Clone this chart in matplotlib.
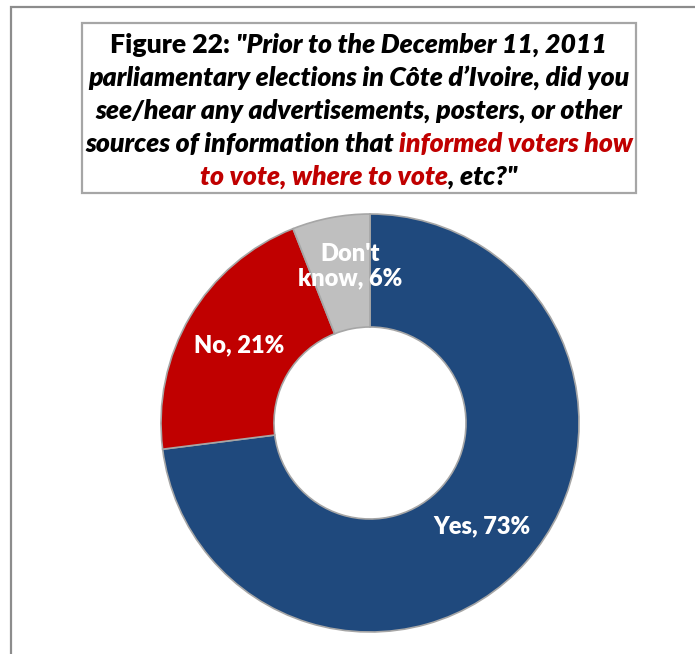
import matplotlib
matplotlib.use("Agg")
import matplotlib.pyplot as plt
from matplotlib.patches import Rectangle

plt.rcParams['font.family'] = ['Lato', 'DejaVu Sans']

labels = ["Yes", "No", "Don't\nknow"]
values = [73, 21, 6]
colors = ["#1F497D", "#C00000", "#BFBFBF"]
label_pos = [(482, 526), (239, 345), (350, 266)]

title_lines = [
    [("Figure 22: ", "black", "normal"), ("\"Prior to the December 11, 2011", "black", "italic")],
    [("parliamentary elections in Côte d\u2019Ivoire, did you", "black", "italic")],
    [("see/hear any advertisements, posters, or other", "black", "italic")],
    [("sources of information that ", "black", "italic"), ("informed voters how", "#C00000", "italic")],
    [("to vote, where to vote", "#C00000", "italic"), (", etc?\"", "black", "italic")],
]

W, H = 695, 654
fig = plt.figure(figsize=(W / 100, H / 100), dpi=100)
ax = fig.add_axes([0, 0, 1, 1])


def fy(y):
    # image rows run downwards, axes y runs upwards
    return H - y


wedges, _ = ax.pie(values, colors=colors, startangle=90, counterclock=False,
                   radius=209, center=(370, fy(423)), frame=True,
                   wedgeprops=dict(width=113, edgecolor="#A6A6A6", linewidth=1.2))

for lab, v, (x, y) in zip(labels, values, label_pos):
    ax.text(x, fy(y), f"{lab}, {v}%", color="white", fontsize=17, fontweight="heavy",
            ha="center", va="center", linespacing=1.15)

ax.set_xlim(0, W)
ax.set_ylim(0, H)
ax.axis("off")

# outer chart frame and title box
ax.add_patch(Rectangle((11, fy(H + 20)), W + 20, H + 13, fill=False,
                       edgecolor="#8C8C8C", linewidth=1.6, clip_on=False))
ax.add_patch(Rectangle((82, fy(193)), 554, 170, facecolor="white",
                       edgecolor="#A6A6A6", linewidth=1.6))

renderer = fig.canvas.get_renderer()
title_kw = dict(fontsize=19.2, fontweight="heavy")


def piece_width(s, style):
    a = ax.text(0, 0, "|" + s + "|", fontstyle=style, **title_kw)
    b = ax.text(0, 0, "||", fontstyle=style, **title_kw)
    w = a.get_window_extent(renderer).width - b.get_window_extent(renderer).width
    a.remove()
    b.remove()
    return w


cx = (82 + 636) / 2
for i, line in enumerate(title_lines):
    base = 53 + 33 * i
    widths = [piece_width(s, st) for s, c, st in line]
    x = cx - sum(widths) / 2
    for (s, c, st), w in zip(line, widths):
        ax.text(x, fy(base), s, color=c, fontstyle=st, ha="left", va="baseline", **title_kw)
        x += w

fig.savefig("out.png", dpi=100)
